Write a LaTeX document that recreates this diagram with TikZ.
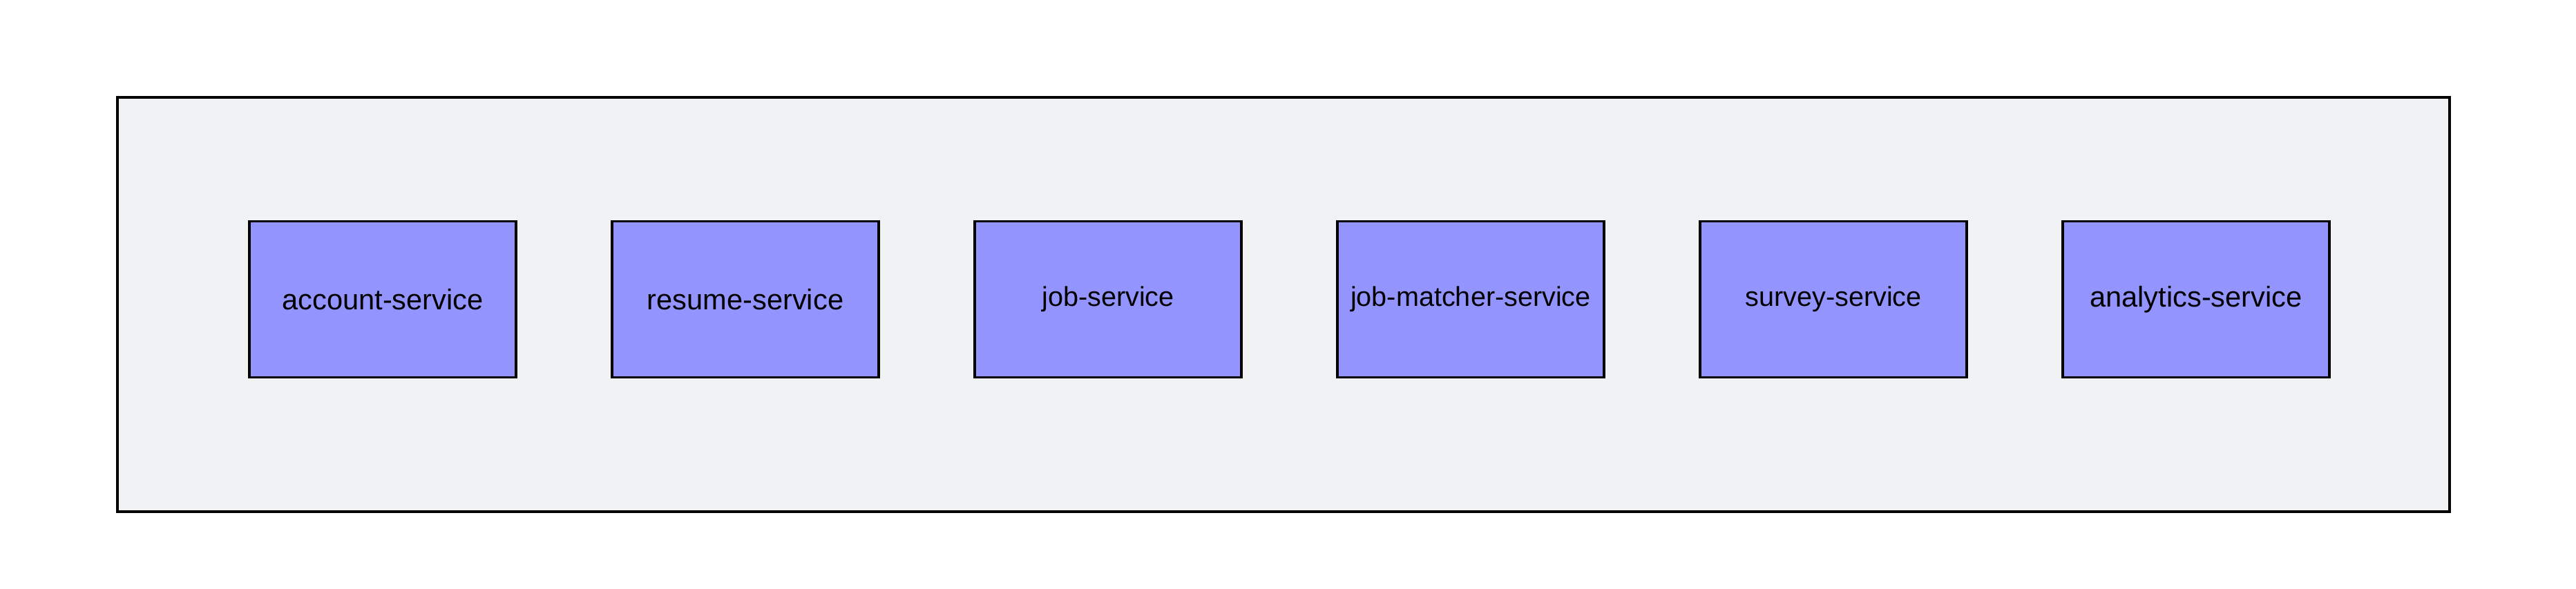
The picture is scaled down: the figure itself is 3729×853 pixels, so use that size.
\documentclass[tikz,border=0pt]{standalone}
\usepackage{fontspec}
\setmainfont{Liberation Sans}
\usetikzlibrary{positioning}

\definecolor{svcblue}{RGB}{148,148,255}
\definecolor{grpgray}{RGB}{241,242,244}

\tikzset{
	svc/.style={draw, fill=svcblue, line width=0.85pt, minimum width=96.5pt, minimum height=56.5pt, inner sep=0pt, font=\fontsize{10.4}{12}\selectfont},
	svcsmall/.style={svc, font=\fontsize{9.9}{12}\selectfont}
}

\begin{document}
\begin{tikzpicture}[x=0.25pt, y=-0.25pt, node distance=33.9pt]

\useasboundingbox (0,0) rectangle (3729,853);

%group
\fill[grpgray](170,141) rectangle (3546,741);
\draw[line width=0.85pt](170,141) rectangle (3546,741);

%services
\node[svc] (account) at (554,433.5) {account-service};
\node[svc, right=of account] (resume) {resume-service};
\node[svcsmall, right=of resume] (job) {job-service};
\node[svcsmall, right=of job] (matcher) {job-matcher-service};
\node[svcsmall, right=of matcher] (survey) {survey-service};
\node[svc, right=of survey] (analytics) {analytics-service};

\end{tikzpicture}
\end{document}
